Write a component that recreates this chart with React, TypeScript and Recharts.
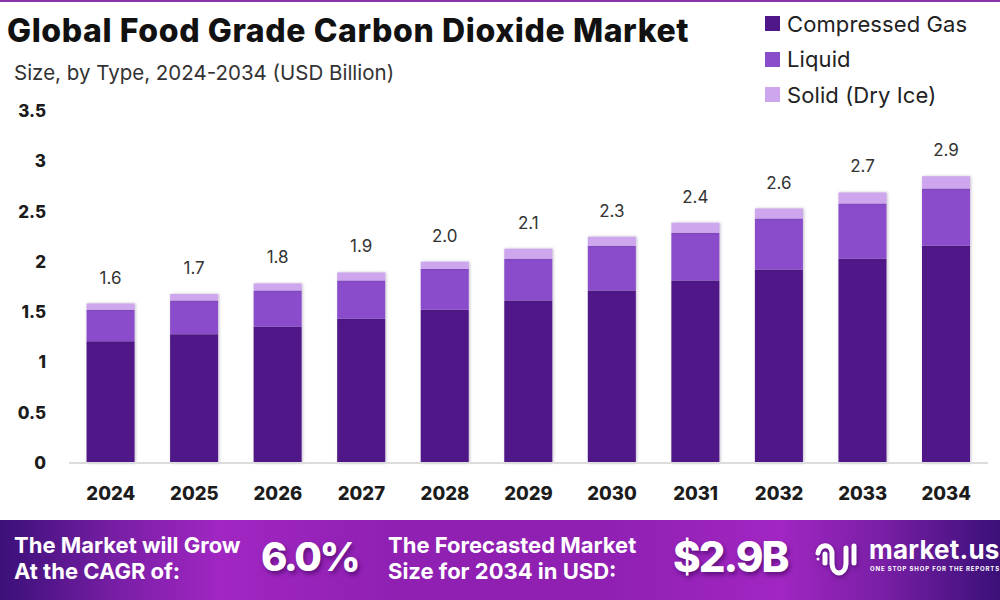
import React from "react";
import { BarChart, Bar, XAxis, YAxis, LabelList, Legend } from "recharts";

const years = ["2024","2025","2026","2027","2028","2029","2030","2031","2032","2033","2034"];
const compressedGas = [1.21,1.28,1.355,1.435,1.525,1.615,1.715,1.815,1.925,2.03,2.16];
const liquid = [0.315,0.335,0.36,0.38,0.405,0.415,0.445,0.475,0.505,0.55,0.57];
const solid = [0.06,0.065,0.07,0.08,0.07,0.10,0.09,0.10,0.10,0.11,0.12];
const totals = ["1.6","1.7","1.8","1.9","2.0","2.1","2.3","2.4","2.6","2.7","2.9"];
const yTicks = [0,0.5,1,1.5,2,2.5,3,3.5];
const colors = ["#4f1787","#8a4ccb","#cda6ee"];
const seriesNames = ["Compressed Gas","Liquid","Solid (Dry Ice)"];

const rows = years.map((year,i)=>({year,gas:compressedGas[i],liquid:liquid[i],solid:solid[i],total:totals[i]}));
const font = "Inter, 'Open Sans', sans-serif";

const LegendBox = () => (
  <div style={{fontFamily:font,fontSize:22,color:"#222",letterSpacing:0.1}}>
    {seriesNames.map((n,i)=>(
      <div key={n} style={{display:"flex",alignItems:"center",height:35.5,whiteSpace:"nowrap"}}>
        <span style={{width:15,height:15,background:colors[i],marginRight:7,display:"inline-block"}}/>
        {n}
      </div>
    ))}
  </div>
);

const shadow = "2px 3px 4px rgba(50,0,80,0.55)";
const barShadow = {filter:"drop-shadow(1px 0px 1.5px rgba(60,30,90,0.3))"};

export default function App(){
  return (
    <div style={{position:"absolute",left:0,top:0,width:1000,height:600,background:"#fff",overflow:"hidden",fontFamily:font}}>
      <div style={{position:"absolute",left:0,top:0,width:1000,height:2,background:"#8a33a8"}}/>
      <div style={{position:"absolute",left:7,top:11,fontSize:32,fontWeight:800,color:"#111",whiteSpace:"nowrap",letterSpacing:0.6}}>Global Food Grade Carbon Dioxide Market</div>
      <div style={{position:"absolute",left:14,top:60,fontSize:20.5,color:"#333",whiteSpace:"nowrap"}}>Size, by Type, 2024-2034 (USD Billion)</div>
      <BarChart width={1000} height={520} data={rows} margin={{top:111,right:12,bottom:27,left:9}} barCategoryGap="21%" style={{position:"absolute",left:0,top:0}}>
        <XAxis dataKey="year" height={30} interval={0} tickLine={false} axisLine={{stroke:"#dcdcdc",strokeWidth:2}} tickMargin={18} tick={{fontSize:18.5,fontWeight:800,fill:"#1c1c1c",fontFamily:font}}/>
        <YAxis width={60} domain={[0,3.5]} ticks={yTicks} axisLine={false} tickLine={false} tickMargin={17} tick={{fontSize:17,fontWeight:800,fill:"#1c1c1c",fontFamily:font}} tickFormatter={(v:number)=>String(v)} interval={0}/>
        <Legend layout="vertical" align="center" verticalAlign="middle" content={<LegendBox/>} wrapperStyle={{position:"absolute",left:765,top:6,width:235}}/>
        <Bar dataKey="gas" stackId="a" fill={colors[0]} isAnimationActive={false} style={barShadow}/>
        <Bar dataKey="liquid" stackId="a" fill={colors[1]} isAnimationActive={false} style={barShadow}/>
        <Bar dataKey="solid" stackId="a" fill={colors[2]} isAnimationActive={false} style={barShadow}>
          <LabelList dataKey="total" position="top" offset={20} style={{fontSize:17,fill:"#333",fontFamily:font}}/>
        </Bar>
      </BarChart>
      <div style={{position:"absolute",left:0,top:520,width:1000,height:80,background:"linear-gradient(90deg,#3a1078 0%,#7a1fa6 12%,#a126c2 22%,#8f20b2 40%,#8f20b2 60%,#a126c2 78%,#7a1fa6 88%,#3a1078 100%)"}}/>
      <div style={{position:"absolute",left:14,top:532,fontSize:22,lineHeight:"26px",fontWeight:700,color:"#fff",whiteSpace:"nowrap"}}>The Market will Grow<br/>At the CAGR of:</div>
      <div style={{position:"absolute",left:261,top:532,fontSize:40,lineHeight:"50px",fontWeight:800,color:"#fff",textShadow:shadow,whiteSpace:"nowrap",letterSpacing:-2.5}}>6.0%</div>
      <div style={{position:"absolute",left:388,top:532,fontSize:22,lineHeight:"26px",fontWeight:700,color:"#fff",whiteSpace:"nowrap"}}>The Forecasted Market<br/>Size for 2034 in USD:</div>
      <div style={{position:"absolute",left:673,top:532,fontSize:42,lineHeight:"50px",fontWeight:800,color:"#fff",textShadow:shadow,whiteSpace:"nowrap",letterSpacing:-2}}>$2.9B</div>
      <svg style={{position:"absolute",left:815,top:540,filter:"drop-shadow(1px 2px 2px rgba(50,0,80,.5))"}} width="48" height="44" viewBox="0 0 48 44" fill="none" stroke="#fff" strokeWidth="5" strokeLinecap="round">
        <path d="M3 13 C5 4 15 3 17 12 L17 24 C18 36 30 36 31 24 L31 8"/>
        <path d="M10 14 L10 23"/>
        <path d="M39 6 L39 23"/>
        <circle cx="3" cy="19" r="1.5" fill="#fff" stroke="none"/>
      </svg>
      <div style={{position:"absolute",left:869,top:538,fontSize:26,lineHeight:"24px",fontWeight:700,color:"#fff",whiteSpace:"nowrap",letterSpacing:0.2}}>market.us</div>
      <div style={{position:"absolute",left:870,top:566,fontSize:6,lineHeight:"6px",fontWeight:700,color:"#fff",whiteSpace:"nowrap",letterSpacing:0.85}}>ONE STOP SHOP FOR THE REPORTS</div>
    </div>
  );
}
